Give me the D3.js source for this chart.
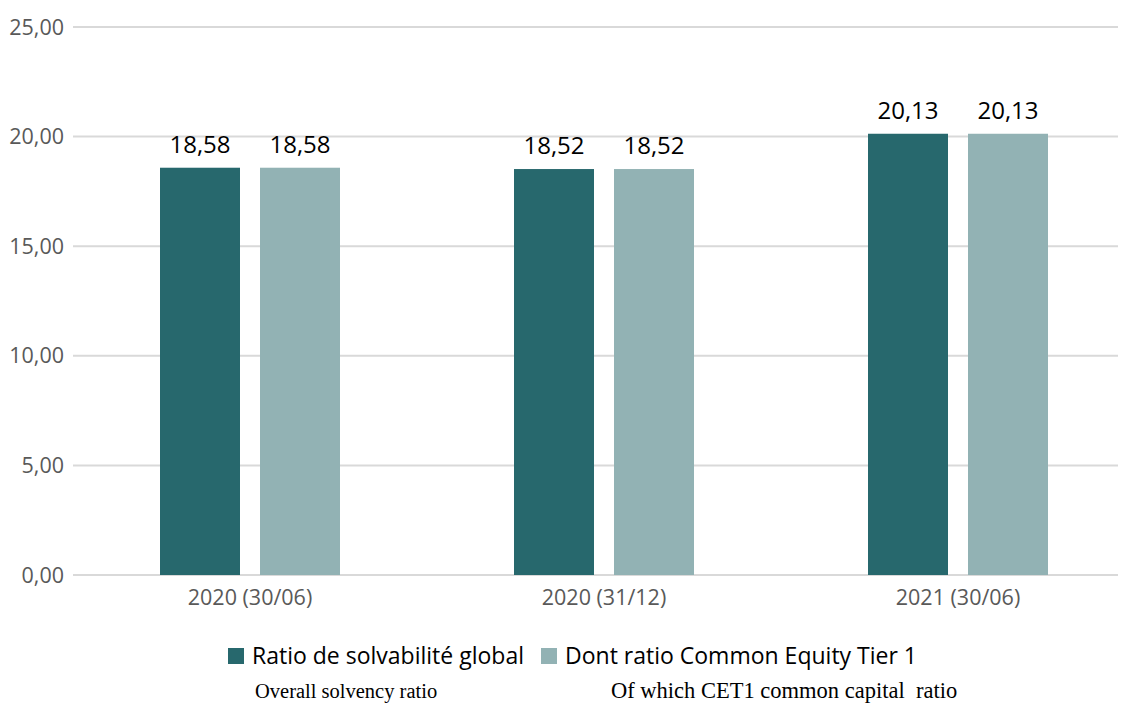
<!DOCTYPE html>
<html>
<head>
<meta charset="utf-8">
<script src="https://cdn.jsdelivr.net/npm/d3@7"></script>
<style>
  body { margin: 0; background: #fff; }
  text { font-family: "Open Sans", "Noto Sans", sans-serif; }
</style>
</head>
<body>
<svg id="chart" width="1123" height="703"></svg>
<script>
// data
const categories = ["2020 (30/06)", "2020 (31/12)", "2021 (30/06)"];
const seriesNames = ["Ratio de solvabilité global", "Dont ratio Common Equity Tier 1"];
const seriesTranslations = ["Overall solvency ratio", "Of which CET1 common capital  ratio"];
const globalRatio = [18.58, 18.52, 20.13];
const cet1Ratio = [18.58, 18.52, 20.13];
const yTicks = [0, 5, 10, 15, 20, 25];

const colors = ["#27686d", "#92b2b4"];

const svg = d3.select("#chart");
const fmt = v => d3.format(".2f")(v).replace(".", ",");

const rows = categories.map((c, i) => ({ cat: c, values: [globalRatio[i], cet1Ratio[i]] }));

const x0 = d3.scaleBand().domain(categories).range([73, 1135]);
const x1 = d3.scaleBand().domain(d3.range(seriesNames.length)).range([0, 180]).paddingInner(0.2);
const y = d3.scaleLinear().domain([0, 25]).range([575, 27]);

// grid lines
svg.append("g").selectAll("line")
  .data(yTicks)
  .join("line")
  .attr("x1", 73).attr("x2", 1118)
  .attr("y1", d => y(d)).attr("y2", d => y(d))
  .attr("stroke", "#d9d9d9")
  .attr("stroke-width", 2);

// y labels
svg.append("g").selectAll("text")
  .data(yTicks)
  .join("text")
  .attr("x", 64)
  .attr("y", d => y(d))
  .attr("dy", "0.35em")
  .attr("text-anchor", "end")
  .attr("fill", "#595959")
  .style("font-size", "21.5px")
  .text(fmt);

// bars
const groups = svg.append("g").selectAll("g")
  .data(rows)
  .join("g")
  .attr("transform", d => `translate(${x0(d.cat) + (x0.bandwidth() - 180) / 2},0)`);

groups.selectAll("rect")
  .data(d => d.values.map((v, i) => ({ v, i })))
  .join("rect")
  .attr("x", d => x1(d.i))
  .attr("width", x1.bandwidth())
  .attr("y", d => y(d.v))
  .attr("height", d => y(0) - y(d.v))
  .attr("fill", d => colors[d.i]);

groups.selectAll("text.val")
  .data(d => d.values.map((v, i) => ({ v, i })))
  .join("text")
  .attr("class", "val")
  .attr("x", d => x1(d.i) + x1.bandwidth() / 2)
  .attr("y", d => y(d.v) - 15)
  .attr("text-anchor", "middle")
  .attr("fill", "#000")
  .style("font-size", "24px")
  .text(d => fmt(d.v));

// category labels
svg.append("g").selectAll("text")
  .data(categories)
  .join("text")
  .attr("x", d => x0(d) + x0.bandwidth() / 2)
  .attr("y", 597)
  .attr("dy", "0.35em")
  .attr("text-anchor", "middle")
  .attr("fill", "#595959")
  .style("font-size", "21.5px")
  .text(d => d);

// legend
const legendX = [228, 541];
seriesNames.forEach((name, i) => {
  svg.append("rect")
    .attr("x", legendX[i]).attr("y", 648)
    .attr("width", 16).attr("height", 16)
    .attr("fill", colors[i]);
  svg.append("text")
    .attr("x", legendX[i] + 24).attr("y", 656)
    .attr("dy", "0.35em")
    .attr("fill", "#000")
    .style("font-size", "23px")
    .text(name);
});

// translations under the legend
const transX = [255, 611];
const transSize = [20.5, 22.5];
seriesTranslations.forEach((t, i) => {
  svg.append("text")
    .attr("x", transX[i]).attr("y", 698)
    .attr("fill", "#000")
    .style("font-family", "'Liberation Serif', 'Times New Roman', serif")
    .style("font-size", transSize[i] + "px")
    .attr("xml:space", "preserve")
    .text(t);
});
</script>
</body>
</html>
